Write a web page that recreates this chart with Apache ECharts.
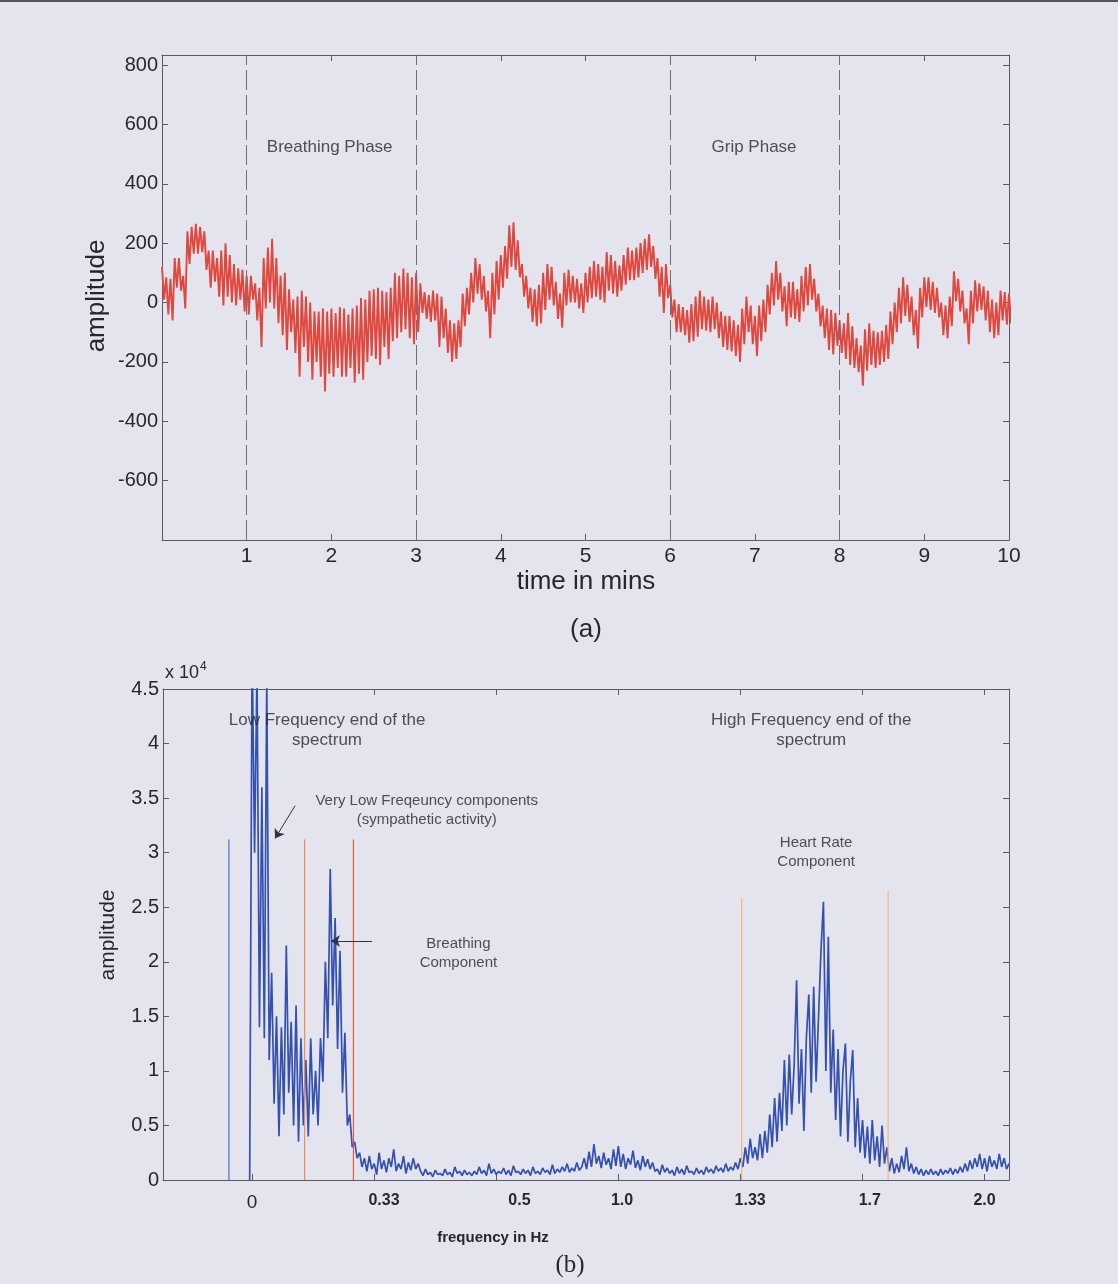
<!DOCTYPE html>
<html>
<head>
<meta charset="utf-8">
<script src="https://cdn.jsdelivr.net/npm/echarts@6/dist/echarts.min.js"></script>
<style>
  html, body { margin: 0; padding: 0; background: #e4e4ee; }
  #chart { width: 1118px; height: 1284px; }
</style>
</head>
<body>
<div id="chart"></div>
<script>
// ---------- DATA ----------
// (a) PPG amplitude over 10 minutes, sampled every 0.025 min (alternating crest / trough)
const timeStepMin = 0.025;
const ppgAmplitude = [
  120,10, 85,-40, 80,-60, 150,50, 150,40, 90,-20, 240,130, 255,165, 265,165, 255,170,
  240,110, 175,50, 175,70, 150,20, 175,-10, 200,20, 160,0, 130,-10, 115,10, 110,-30,
  90,-40, 90,10, 65,-60, 50,-150, 150,-20, 185,0, 215,-20, 150,-70, 90,-110, 100,-160,
  45,-100, 10,-170, 20,-250, 40,-150, 20,-200, 0,-260, -30,-200, -30,-250, -20,-300, -30,-240,
  -20,-250, -35,-220, -15,-250, -20,-250, -40,-220, -20,-270, -10,-240, 15,-260, 10,-200, 40,-180,
  45,-190, 50,-210, 40,-150, 35,-190, 50,-130, 100,-120, 90,-100, 115,-90, 100,-120, 85,-140,
  100,-100, 65,-35, 35,-55, 25,-65, 40,-60, 30,-150, 20,-120, -20,-170, -60,-200, -70,-190,
  -60,-150, 30,-80, 50,-40, 100,0, 150,30, 130,10, 90,-30, 40,-120, 100,-40, 140,10,
  160,50, 190,80, 260,120, 270,110, 210,85, 130,20, 90,-20, 50,-65, 45,-80, 60,-70,
  100,-25, 130,10, 120,-10, 70,-55, 30,-85, 100,-10, 110,0, 90,0, 80,-20, 65,-35,
  100,0, 120,15, 140,20, 130,10, 120,0, 170,40, 160,30, 140,20, 125,40, 160,60,
  185,75, 175,75, 185,85, 200,100, 215,110, 230,120, 190,80, 150,20, 120,-35, 130,15,
  60,-50, 10,-100, -5,-100, -15,-110, -25,-135, -5,-130, 20,-115, 40,-90, 20,-95, 10,-100,
  20,-90, 0,-120, -30,-150, -45,-160, -45,-165, -60,-180, -75,-200, -20,-140, 20,-100, -10,-140,
  -45,-180, -10,-130, 10,-100, 60,-40, 100,-10, 140,10, 100,-30, 55,-80, 70,-50, 70,-55,
  45,-65, 90,-30, 120,-10, 130,10, 80,-30, 30,-80, -10,-120, -20,-160, -25,-175, -35,-145,
  -60,-170, -70,-190, -35,-210, -80,-220, -120,-235, -145,-280, -90,-230, -70,-210, -95,-220, -100,-210,
  -95,-200, -75,-190, -30,-140, 0,-100, 50,-70, 85,-45, 60,-65, 20,-110, -25,-155, 50,-50,
  85,-15, 85,-25, 70,-35, 50,-50, 0,-110, -10,-120, 20,-80, 105,5, 80,-30, 40,-70,
  -20,-140, 40,-70, 75,-30, 65,-25, 55,-60, 40,-100, 10,-120, 0,-110, 40,-60, 35,-75,
  30,-70
];
const phaseBoundaries = [1, 3, 6, 8];
const phaseNames = ['Breathing Phase', 'Grip Phase'];
const phaseLabelAt = [[1.98, 523], [6.99, 523]];
const timeTicks = [0,1,2,3,4,5,6,7,8,9,10];
const ampTicks = [-600,-400,-200,0,200,400,600,800];

// (b) spectrum amplitude (x 10^4), on the plot's tick-index scale, step 0.02 starting at -0.02
const specStart = -0.02;
const specStep = 0.02;
const spectrum = [
  0,
  4.9,3.0,4.7,1.4,3.6,1.3,4.6,1.1,1.9,0.7,1.5,0.4,1.4,0.6,2.15,0.8,1.45,0.5,1.6,0.35,
  1.3,0.5,1.1,0.4,1.3,0.6,1.0,0.5,1.3,0.9,2.0,1.3,2.85,1.6,2.4,1.2,2.1,0.8,1.35,0.5,
  0.6,0.3,0.35,0.2,0.25,0.12,
  0.2,0.08,0.22,0.1,0.15,0.05,0.25,0.1,0.18,0.07,0.2,0.12,0.28,0.08,0.15,0.1,0.22,0.06,0.16,0.09,0.2,0.1,0.15,
  0.08,0.04,0.1,0.05,0.07,0.03,0.09,0.05,0.06,0.04,0.1,0.05,0.07,0.03,0.12,0.06,0.08,0.04,0.09,0.05,0.07,0.04,
  0.08,0.05,0.12,0.06,0.09,0.04,0.15,0.06,0.1,0.05,0.08,0.06,0.11,0.05,0.09,0.04,0.13,0.07,0.08,0.05,
  0.1,0.06,0.09,0.04,0.12,0.06,0.08,0.05,0.11,0.07,0.09,0.05,0.14,0.06,0.1,0.07,0.12,0.08,0.15,0.07,
  0.11,0.08,0.16,0.09,
  0.12,0.2,0.1,0.26,0.12,0.33,0.15,0.22,0.11,0.25,0.14,0.2,0.1,0.28,0.13,0.31,0.12,0.24,0.1,0.2,
  0.14,0.27,0.11,0.18,0.09,0.22,0.12,0.19,0.1,0.16,0.08,
  0.1,0.05,0.14,0.07,0.11,0.06,0.09,0.04,0.12,0.06,0.1,0.05,0.13,0.07,0.08,0.05,0.11,0.06,0.09,0.05,
  0.12,0.07,0.1,0.06,0.13,0.08,0.11,0.07,0.15,0.08,0.12,0.09,0.16,0.1,
  0.2,0.12,0.3,0.15,0.38,0.2,0.3,0.18,0.42,0.2,0.45,0.25,0.6,0.3,0.75,0.35,0.8,0.45,1.1,0.5,
  1.15,0.6,1.05,1.83,0.7,1.2,0.45,1.3,1.7,0.8,1.77,0.9,1.5,2.11,2.55,1.0,2.23,0.8,1.38,0.55,
  1.2,0.4,1.0,1.25,0.35,0.9,1.19,0.3,0.75,0.25,
  0.55,0.2,0.49,0.15,0.55,0.18,0.4,0.12,0.5,0.15,0.3,0.08,0.2,0.06,0.15,0.07,0.22,0.1,0.3,0.08,
  0.15,0.06,0.12,0.05,0.1,0.04,0.09,0.05,0.1,0.05,0.08,0.04,0.1,0.05,0.09,0.06,0.11,0.05,0.1,0.06,
  0.12,0.07,0.15,0.08,0.18,0.1,0.2,0.12,0.24,0.1,0.2,0.08,0.22,0.12,0.18,0.1,0.24,0.12,0.2,0.1,
  0.15
];
const freqTicks = [0,1,2,3,4,5,6];
const freqLabelPos = [0, 1.08, 2.19, 3.03, 4.08, 5.06, 6.0];
const freqLabelText = ['0', '0.33', '0.5', '1.0', '1.33', '1.7', '2.0'];
const specTicks = [0,0.5,1,1.5,2,2.5,3,3.5,4,4.5];
const bandMarkerPos = [-0.19, 0.43, 0.83, 4.01, 5.21];
const bandMarkerHeight = [3.12, 3.12, 3.12, 2.58, 2.65];

const annotations = [
  { text: 'Low Frequency end of the\nspectrum', at: [0.614, 4.12], big: true },
  { text: 'Very Low Freqeuncy components\n(sympathetic activity)', at: [1.43, 3.39], big: false },
  { text: 'Breathing\nComponent', at: [1.69, 2.08], big: false },
  { text: 'High Frequency end of the\nspectrum', at: [4.58, 4.12], big: true },
  { text: 'Heart Rate\nComponent', at: [4.62, 3.0], big: false }
];
const arrows = [
  [[0.352, 3.43], [0.188, 3.13]],
  [[0.982, 2.19], [0.646, 2.19]]
];

// ---------- STYLE ----------
const SANS = '"Liberation Sans", Arial, Helvetica, sans-serif';
const SERIF = '"Liberation Serif", "Times New Roman", serif';
const axisCol = '#5a5a66';
const textCol = '#262630';
const markerColors = ['#4d6bc6', '#f08860', '#e85838', '#f4b870', '#f4b870'];

const chart = echarts.init(document.getElementById('chart'), null, { renderer: 'canvas' });

function boxAxis(extra) {
  return Object.assign({
    axisLine: { show: true, onZero: false, lineStyle: { color: axisCol, width: 1 } },
    splitLine: { show: false }
  }, extra);
}

const ppgData = ppgAmplitude.map((v, i) => [i * timeStepMin, v]);
const specData = spectrum.map((v, i) => [+(specStart + i * specStep).toFixed(4), v]);

const markerSeries = bandMarkerPos.map((f, k) => ({
  type: 'line',
  xAxisIndex: 2, yAxisIndex: 2,
  data: [[f, 0], [f, bandMarkerHeight[k]]],
  symbol: 'none',
  silent: true,
  z: 4,
  lineStyle: { color: markerColors[k], width: 1.2 }
}));

const option = {
  backgroundColor: '#e4e4ee',
  animation: false,
  grid: [
    { left: 162, top: 55, width: 847, height: 485, show: false },
    { left: 163, top: 689, width: 846, height: 491, show: false }
  ],
  xAxis: [
    boxAxis({
      gridIndex: 0, type: 'value', position: 'bottom', min: 0, max: 10,
      axisTick: { show: true, inside: true, length: 6, customValues: timeTicks, lineStyle: { color: axisCol } },
      axisLabel: { customValues: timeTicks.filter(v => v > 0), fontSize: 21, fontFamily: SANS, color: textCol, margin: 6 }
    }),
    boxAxis({
      gridIndex: 0, type: 'value', position: 'top', min: 0, max: 10,
      axisTick: { show: true, inside: true, length: 6, customValues: timeTicks, lineStyle: { color: axisCol } },
      axisLabel: { show: false }
    }),
    boxAxis({
      gridIndex: 1, type: 'value', position: 'bottom', min: -0.73, max: 6.2,
      axisTick: { show: true, inside: true, length: 6, customValues: freqTicks, lineStyle: { color: axisCol } },
      axisLabel: {
        customValues: freqLabelPos,
        fontFamily: SANS, color: textCol, margin: 13,
        formatter: v => {
          const k = freqLabelPos.findIndex(p => Math.abs(p - v) < 1e-6);
          const t = k >= 0 ? freqLabelText[k] : '';
          return k === 0 ? '{n|' + t + '}' : '{b|' + t + '}';
        },
        rich: {
          n: { fontSize: 19, fontFamily: SANS, color: textCol },
          b: { fontSize: 16, fontWeight: 'bold', fontFamily: SANS, color: textCol }
        }
      }
    }),
    boxAxis({
      gridIndex: 1, type: 'value', position: 'top', min: -0.73, max: 6.2,
      axisTick: { show: true, inside: true, length: 6, customValues: freqTicks, lineStyle: { color: axisCol } },
      axisLabel: { show: false }
    })
  ],
  yAxis: [
    boxAxis({
      gridIndex: 0, type: 'value', position: 'left', min: -800, max: 834,
      axisTick: { show: true, inside: true, length: 6, customValues: ampTicks, lineStyle: { color: axisCol } },
      axisLabel: { customValues: ampTicks, fontSize: 20, fontFamily: SANS, color: textCol, margin: 4 }
    }),
    boxAxis({
      gridIndex: 0, type: 'value', position: 'right', min: -800, max: 834,
      axisTick: { show: true, inside: true, length: 6, customValues: ampTicks, lineStyle: { color: axisCol } },
      axisLabel: { show: false }
    }),
    boxAxis({
      gridIndex: 1, type: 'value', position: 'left', min: 0, max: 4.5,
      axisTick: { show: true, inside: true, length: 6, customValues: specTicks, lineStyle: { color: axisCol } },
      axisLabel: { customValues: specTicks, fontSize: 20, fontFamily: SANS, color: textCol, margin: 4 }
    }),
    boxAxis({
      gridIndex: 1, type: 'value', position: 'right', min: 0, max: 4.5,
      axisTick: { show: true, inside: true, length: 6, customValues: specTicks, lineStyle: { color: axisCol } },
      axisLabel: { show: false }
    })
  ],
  series: [
    {
      type: 'line', xAxisIndex: 0, yAxisIndex: 0,
      data: ppgData, symbol: 'none', silent: true, clip: true,
      lineStyle: { color: '#e0473d', width: 1.9 },
      z: 3,
      markLine: {
        silent: true, symbol: ['none', 'none'],
        label: { show: false },
        lineStyle: { color: '#6e6e7c', width: 1, type: [20, 5] },
        data: phaseBoundaries.map(x => ({ xAxis: x }))
      }
    },
    {
      type: 'scatter', xAxisIndex: 0, yAxisIndex: 0,
      data: phaseLabelAt.map((p, k) => ({ value: p, name: phaseNames[k] })),
      symbolSize: 1, itemStyle: { color: 'rgba(0,0,0,0)' }, silent: true,
      label: { show: true, position: 'inside', formatter: p => p.name,
        fontSize: 17, fontFamily: SANS, color: textCol }
    },
    {
      type: 'line', xAxisIndex: 2, yAxisIndex: 2,
      data: specData, symbol: 'none', silent: true, clip: true,
      lineStyle: { color: '#3450b0', width: 1.7 },
      z: 3
    },
    ...markerSeries,
    {
      type: 'scatter', xAxisIndex: 2, yAxisIndex: 2,
      data: annotations.map(a => ({ value: a.at, name: a.text })),
      symbolSize: 1, itemStyle: { color: 'rgba(0,0,0,0)' }, silent: true, z: 6,
      label: {
        show: true, position: 'inside', align: 'center', verticalAlign: 'middle',
        formatter: p => p.name.split('\n').map(s => (annotations[p.dataIndex].big ? '{g|' : '{s|') + s + '}').join('\n'),
        rich: {
          g: { fontSize: 17, lineHeight: 20, fontFamily: SANS, color: textCol },
          s: { fontSize: 15, lineHeight: 19, fontFamily: SANS, color: textCol }
        }
      },
      markLine: {
        silent: true, symbol: ['none', 'arrow'], symbolSize: 9,
        label: { show: false },
        lineStyle: { color: '#333340', width: 1, type: 'solid' },
        data: arrows.map(a => [{ coord: a[0] }, { coord: a[1] }])
      }
    }
  ],
  graphic: [
    { type: 'rect', shape: { x: 0, y: 0, width: 1118, height: 2 }, style: { fill: '#55555f' }, silent: true },
    { type: 'text', x: 97, y: 296, rotation: Math.PI / 2,
      style: { text: 'amplitude', font: '26px ' + SANS, fill: textCol, align: 'center', verticalAlign: 'middle' } },
    { type: 'text', x: 586, y: 582,
      style: { text: 'time in mins', font: '26px ' + SANS, fill: textCol, align: 'center', verticalAlign: 'middle' } },
    { type: 'text', x: 586, y: 630,
      style: { text: '(a)', font: '26px ' + SANS, fill: textCol, align: 'center', verticalAlign: 'middle' } },
    { type: 'text', x: 108, y: 935, rotation: Math.PI / 2,
      style: { text: 'amplitude', font: '21px ' + SANS, fill: textCol, align: 'center', verticalAlign: 'middle' } },
    { type: 'text', x: 493, y: 1238,
      style: { text: 'frequency in Hz', font: 'bold 15px ' + SANS, fill: textCol, align: 'center', verticalAlign: 'middle' } },
    { type: 'text', x: 570, y: 1265,
      style: { text: '(b)', font: '25px ' + SERIF, fill: textCol, align: 'center', verticalAlign: 'middle' } },
    { type: 'text', x: 165, y: 673,
      style: { text: '{a|x 10}{s|4}', align: 'left', verticalAlign: 'middle',
        rich: {
          a: { fontSize: 18, fontFamily: SANS, fill: textCol, color: textCol },
          s: { fontSize: 12, fontFamily: SANS, fill: textCol, color: textCol, verticalAlign: 'top', padding: [0, 0, 12, 1] }
        } } }
  ]
};

chart.setOption(option);
</script>
</body>
</html>
